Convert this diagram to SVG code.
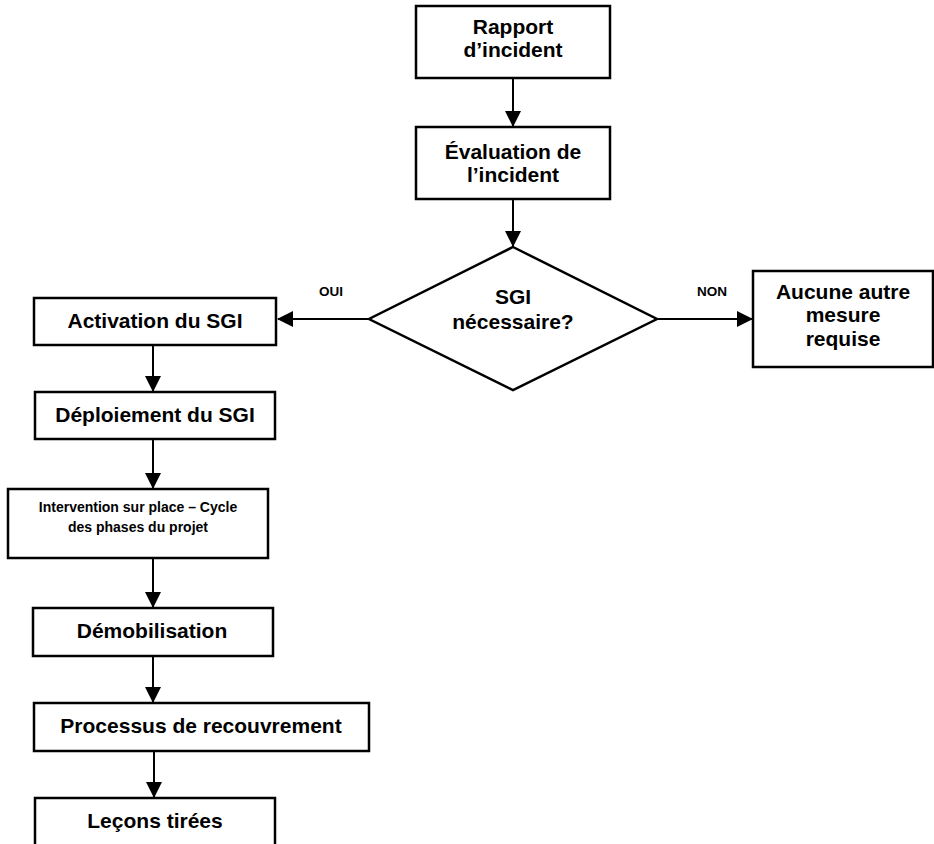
<svg xmlns="http://www.w3.org/2000/svg" width="934" height="844" viewBox="0 0 934 844">
  <style>
    .box { fill: #ffffff; stroke: #000000; stroke-width: 2.5; }
    .lbl { font-family: "Liberation Sans", Arial, sans-serif; font-weight: bold; font-size: 21px; fill: #000000; text-anchor: middle; }
    .small { font-size: 14px; }
    .tag { font-family: "Liberation Sans", Arial, sans-serif; font-weight: bold; font-size: 13.5px; fill: #000000; text-anchor: middle; }
    .link { fill: none; stroke: #000000; stroke-width: 2; }
  </style>
  <defs>
    <marker id="arrow" markerWidth="8" markerHeight="8" refX="7.5" refY="4" orient="auto" markerUnits="strokeWidth">
      <path d="M0,0 L8,4 L0,8 Z" fill="#000000"/>
    </marker>
  </defs>
  <rect width="934" height="844" fill="#ffffff"/>

  <g id="connectors">
    <line class="link" x1="513" y1="78" x2="513" y2="126" marker-end="url(#arrow)"/>
    <line class="link" x1="513" y1="199" x2="513" y2="246" marker-end="url(#arrow)"/>
    <line class="link" x1="369" y1="319" x2="278" y2="319" marker-end="url(#arrow)"/>
    <line class="link" x1="657" y1="319" x2="752" y2="319" marker-end="url(#arrow)"/>
    <line class="link" x1="153" y1="345" x2="153" y2="391" marker-end="url(#arrow)"/>
    <line class="link" x1="153" y1="439" x2="153" y2="488" marker-end="url(#arrow)"/>
    <line class="link" x1="153" y1="558" x2="153" y2="607" marker-end="url(#arrow)"/>
    <line class="link" x1="153" y1="656" x2="153" y2="702" marker-end="url(#arrow)"/>
    <line class="link" x1="154" y1="751" x2="154" y2="797" marker-end="url(#arrow)"/>
    <text class="tag" x="331" y="296">OUI</text>
    <text class="tag" x="712" y="296">NON</text>
  </g>

  <g id="rapport">
    <rect class="box" x="416" y="6" width="194" height="72"/>
    <text class="lbl" x="513" y="34">Rapport</text>
    <text class="lbl" x="513" y="57">d’incident</text>
  </g>

  <g id="evaluation">
    <rect class="box" x="416" y="127" width="194" height="72"/>
    <text class="lbl" x="513" y="159">Évaluation de</text>
    <text class="lbl" x="513" y="182">l’incident</text>
  </g>

  <g id="decision">
    <polygon class="box" points="513,247 657,319 513,390 369,319"/>
    <text class="lbl" x="513" y="304">SGI</text>
    <text class="lbl" x="513" y="329">nécessaire?</text>
  </g>

  <g id="aucune">
    <rect class="box" x="753" y="271" width="180" height="96"/>
    <text class="lbl" x="843" y="299">Aucune autre</text>
    <text class="lbl" x="843" y="322">mesure</text>
    <text class="lbl" x="843" y="346">requise</text>
  </g>

  <g id="activation">
    <rect class="box" x="34" y="298" width="242" height="47"/>
    <text class="lbl" x="155" y="328">Activation du SGI</text>
  </g>

  <g id="deploiement">
    <rect class="box" x="35" y="392" width="240" height="47"/>
    <text class="lbl" x="155" y="422">Déploiement du SGI</text>
  </g>

  <g id="intervention">
    <rect class="box" x="8" y="489" width="260" height="69"/>
    <text class="lbl small" x="138" y="512">Intervention sur place – Cycle</text>
    <text class="lbl small" x="138" y="532">des phases du projet</text>
  </g>

  <g id="demobilisation">
    <rect class="box" x="33" y="608" width="240" height="48"/>
    <text class="lbl" x="152" y="638">Démobilisation</text>
  </g>

  <g id="processus">
    <rect class="box" x="34" y="703" width="335" height="48"/>
    <text class="lbl" x="201" y="733">Processus de recouvrement</text>
  </g>

  <g id="lecons">
    <rect class="box" x="35" y="798" width="240" height="56"/>
    <text class="lbl" x="155" y="828">Leçons tirées</text>
  </g>
</svg>
